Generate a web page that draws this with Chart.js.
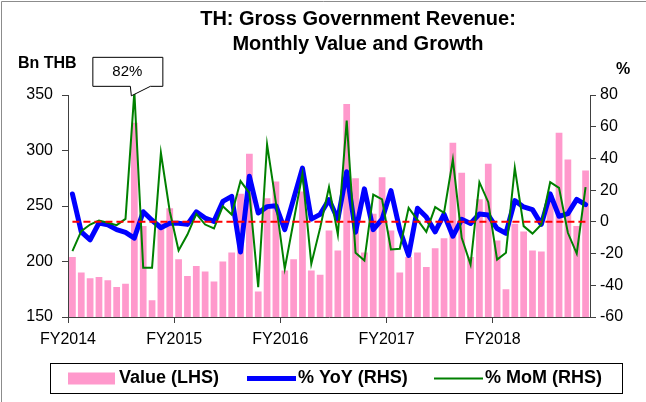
<!DOCTYPE html>
<html>
<head>
<meta charset="utf-8">
<script src="https://cdn.jsdelivr.net/npm/chart.js@4"></script>
<style>
  html, body { margin: 0; padding: 0; background: #fff; }
  #wrap { width: 646px; height: 402px; position: relative; }
</style>
</head>
<body>
<div id="wrap"><canvas id="c" width="646" height="402"></canvas></div>
<script>
// ---- Data ----
const categories = [
  'Oct-13','Nov-13','Dec-13','Jan-14','Feb-14','Mar-14','Apr-14','May-14','Jun-14','Jul-14','Aug-14','Sep-14',
  'Oct-14','Nov-14','Dec-14','Jan-15','Feb-15','Mar-15','Apr-15','May-15','Jun-15','Jul-15','Aug-15','Sep-15',
  'Oct-15','Nov-15','Dec-15','Jan-16','Feb-16','Mar-16','Apr-16','May-16','Jun-16','Jul-16','Aug-16','Sep-16',
  'Oct-16','Nov-16','Dec-16','Jan-17','Feb-17','Mar-17','Apr-17','May-17','Jun-17','Jul-17','Aug-17','Sep-17',
  'Oct-17','Nov-17','Dec-17','Jan-18','Feb-18','Mar-18','Apr-18','May-18','Jun-18','Jul-18','Aug-18'
];
const valueBnTHB = [
  204,190,185,186,183,177,180,325,232,165,235,248,
  202,187,196,191,182,200,208,261,297,173,257,272,
  192,202,263,192,188,228,210,342,275,208,243,276,
  228,190,204,208,195,212,221,307,280,204,256,288,
  219,175,234,227,210,209,260,316,292,232,282
];
const yoyPct = [
  17.6,-6.3,-11.3,-0.7,-1.8,-4.9,-6.6,-10.2,6.4,1.0,-3.7,-0.9,
  -0.9,-1.6,6.3,2.4,0.3,12.9,16.1,-19.0,28.7,5.6,9.6,10.2,
  -4.9,14.5,33.9,1.7,4.7,14.0,1.6,31.6,-6.5,20.8,-4.9,1.7,
  19.7,-5.0,-21.2,8.6,3.0,-6.3,4.8,-9.1,1.6,-1.0,5.0,4.3,
  -4.2,-7.2,13.4,9.4,7.7,-1.6,17.7,3.5,5.2,14.2,10.8
];
const momPct = [
  -18.5,-5.9,-1.7,0.8,-0.6,-2.1,1.9,82,-29,-29,43.5,6.7,
  -18.1,-8,5,-1.7,-4.2,9.9,4.6,25.7,18.3,-41.2,48.8,12,
  -29.6,0.4,30.3,-26.5,-3.8,21.9,-8,63.9,-19.5,-24.4,17.2,14.1,
  -17.4,-17,8.8,1.2,-6.3,9.3,5.7,39.3,-10.1,-26.9,25,12.4,
  -23.8,-19.5,34,-2.7,-7.4,-1.7,25,21.4,-6.9,-20,21.9
];
const fyTickLabels = ['FY2014','FY2015','FY2016','FY2017','FY2018'];
const leftTicks = [150, 200, 250, 300, 350];
const rightTicks = [-60, -40, -20, 0, 20, 40, 60, 80];
const seriesNames = ['Value (LHS)', '% YoY (RHS)', '% MoM (RHS)'];
const titleLines = ['TH: Gross Government Revenue:', 'Monthly Value and Growth'];

// fiscal-year starts (October) as boundary positions on the category scale
const fyStarts = categories.map((c, i) => c.startsWith('Oct') ? i : -1).filter(i => i >= 0);

const FONT = "'Liberation Sans', Arial, sans-serif";
const AXIS_COLOR = '#404040';

const decorPlugin = {
  id: 'decor',
  beforeDraw(chart) {
    const ctx = chart.ctx;
    ctx.save();
    ctx.fillStyle = '#fff';
    ctx.fillRect(0, 0, chart.width, chart.height);
    ctx.strokeStyle = '#8c8c8c';
    ctx.lineWidth = 1;
    ctx.beginPath();
    ctx.moveTo(1.5, chart.height);
    ctx.lineTo(1.5, 1.5);
    ctx.lineTo(chart.width, 1.5);
    ctx.stroke();
    ctx.restore();
  },
  afterDatasetsDraw(chart) {
    const ctx = chart.ctx;
    const xs = chart.scales.x, y2 = chart.scales.y2;
    // zero reference line (red dashed)
    const y0 = y2.getPixelForValue(0);
    ctx.save();
    ctx.strokeStyle = '#FF0000';
    ctx.lineWidth = 2;
    ctx.setLineDash([7, 4]);
    ctx.beginPath();
    ctx.moveTo(xs.getPixelForValue(0), y0);
    ctx.lineTo(xs.getPixelForValue(categories.length - 1), y0);
    ctx.stroke();
    ctx.restore();

    // callout for MoM peak
    const maxV = Math.max(...momPct);
    const idx = momPct.indexOf(maxV);
    const px = xs.getPixelForValue(idx);
    const py = y2.getPixelForValue(maxV);
    const tx = px - 3, ty = py + 4;
    const L = tx - 39, R = tx + 31, T = ty - 39, B = ty - 10;
    ctx.save();
    ctx.fillStyle = '#fff';
    ctx.strokeStyle = '#000';
    ctx.lineWidth = 1;
    ctx.beginPath();
    ctx.moveTo(L + 0.5, T + 0.5);
    ctx.lineTo(R + 0.5, T + 0.5);
    ctx.lineTo(R + 0.5, B + 0.5);
    ctx.lineTo(tx + 19, B + 0.5);
    ctx.lineTo(tx, ty);
    ctx.lineTo(tx - 1, B + 0.5);
    ctx.lineTo(L + 0.5, B + 0.5);
    ctx.closePath();
    ctx.fill();
    ctx.stroke();
    ctx.fillStyle = '#000';
    ctx.font = '15px ' + FONT;
    ctx.textAlign = 'center';
    ctx.textBaseline = 'middle';
    ctx.fillText(Math.round(maxV) + '%', (L + R) / 2, (T + B) / 2 + 1);
    ctx.restore();
  },
  afterDraw(chart) {
    const ctx = chart.ctx;
    ctx.save();
    ctx.fillStyle = '#000';
    // title
    ctx.font = 'bold 20px ' + FONT;
    ctx.textAlign = 'center';
    ctx.textBaseline = 'middle';
    ctx.fillText(titleLines[0], 358, 19);
    ctx.fillText(titleLines[1], 358, 44);
    // axis units
    ctx.font = 'bold 16px ' + FONT;
    ctx.textAlign = 'left';
    ctx.fillText('Bn THB', 18, 64);
    ctx.fillText('%', 616, 70);
    // legend
    const bx = 50, by = 363, bw = 572, bh = 30;
    ctx.strokeStyle = '#000';
    ctx.lineWidth = 1;
    ctx.strokeRect(bx + 0.5, by + 0.5, bw, bh);
    const cy = by + bh / 2 + 0.5;
    ctx.font = 'bold 18px ' + FONT;
    ctx.textBaseline = 'middle';
    // bar swatch
    ctx.fillStyle = chart.data.datasets[0].backgroundColor;
    ctx.fillRect(68, cy - 6, 47, 12);
    ctx.fillStyle = '#000';
    ctx.fillText(seriesNames[0], 119, cy);
    // YoY swatch
    ctx.strokeStyle = chart.data.datasets[1].borderColor;
    ctx.lineWidth = 5;
    ctx.beginPath(); ctx.moveTo(247, cy); ctx.lineTo(296, cy); ctx.stroke();
    ctx.fillText(seriesNames[1], 298, cy);
    // MoM swatch
    ctx.strokeStyle = chart.data.datasets[2].borderColor;
    ctx.lineWidth = 2;
    ctx.beginPath(); ctx.moveTo(434, cy); ctx.lineTo(483, cy); ctx.stroke();
    ctx.fillText(seriesNames[2], 485, cy);
    ctx.restore();
  }
};

const tickFont = { family: FONT, size: 16 };

new Chart(document.getElementById('c'), {
  type: 'bar',
  data: {
    labels: categories,
    datasets: [
      {
        type: 'bar', label: seriesNames[0], data: valueBnTHB,
        xAxisID: 'x', yAxisID: 'y',
        backgroundColor: '#FF99CC', borderWidth: 0,
        barPercentage: 0.76, categoryPercentage: 1.0, order: 3
      },
      {
        type: 'line', label: seriesNames[1], data: yoyPct,
        xAxisID: 'x', yAxisID: 'y2',
        borderColor: '#0000FF', borderWidth: 5, pointRadius: 0,
        tension: 0, borderJoinStyle: 'round', borderCapStyle: 'round', order: 2
      },
      {
        type: 'line', label: seriesNames[2], data: momPct,
        xAxisID: 'x', yAxisID: 'y2',
        borderColor: '#008000', borderWidth: 2, pointRadius: 0,
        tension: 0, order: 1, clip: false
      }
    ]
  },
  options: {
    responsive: false,
    animation: false,
    devicePixelRatio: 1,
    layout: { padding: { top: 95, left: 0, right: 0, bottom: 0 } },
    plugins: {
      legend: { display: false },
      title: { display: false },
      tooltip: { enabled: false }
    },
    scales: {
      x: {
        type: 'category', display: false, offset: true,
        grid: { offset: true }
      },
      x2: {
        type: 'linear', position: 'bottom',
        min: 0, max: categories.length,
        offset: false,
        afterBuildTicks: s => { s.ticks = fyStarts.map(v => ({ value: v })); },
        ticks: {
          callback: v => fyTickLabels[fyStarts.indexOf(v)],
          font: tickFont, color: '#000', maxRotation: 0, autoSkip: false, padding: 7
        },
        grid: { offset: false, drawOnChartArea: false, tickLength: 6, color: AXIS_COLOR },
        border: { color: AXIS_COLOR, width: 1 },
        afterFit: s => { s.height = 85; }
      },
      y: {
        type: 'linear', position: 'left',
        min: leftTicks[0], max: leftTicks[leftTicks.length - 1],
        beginAtZero: false,
        afterBuildTicks: s => { s.ticks = leftTicks.map(v => ({ value: v })); },
        ticks: { font: tickFont, color: '#000', padding: 9 },
        grid: { drawOnChartArea: false, tickLength: 6, color: AXIS_COLOR },
        border: { color: AXIS_COLOR, width: 1 },
        afterFit: s => { s.width = 68; }
      },
      y2: {
        type: 'linear', position: 'right',
        min: rightTicks[0], max: rightTicks[rightTicks.length - 1],
        afterBuildTicks: s => { s.ticks = rightTicks.map(v => ({ value: v })); },
        ticks: { font: tickFont, color: '#000', padding: 4 },
        grid: { drawOnChartArea: false, tickLength: 6, color: AXIS_COLOR },
        border: { color: AXIS_COLOR, width: 1 },
        afterFit: s => { s.width = 56; }
      }
    }
  },
  plugins: [decorPlugin]
});
</script>
</body>
</html>
